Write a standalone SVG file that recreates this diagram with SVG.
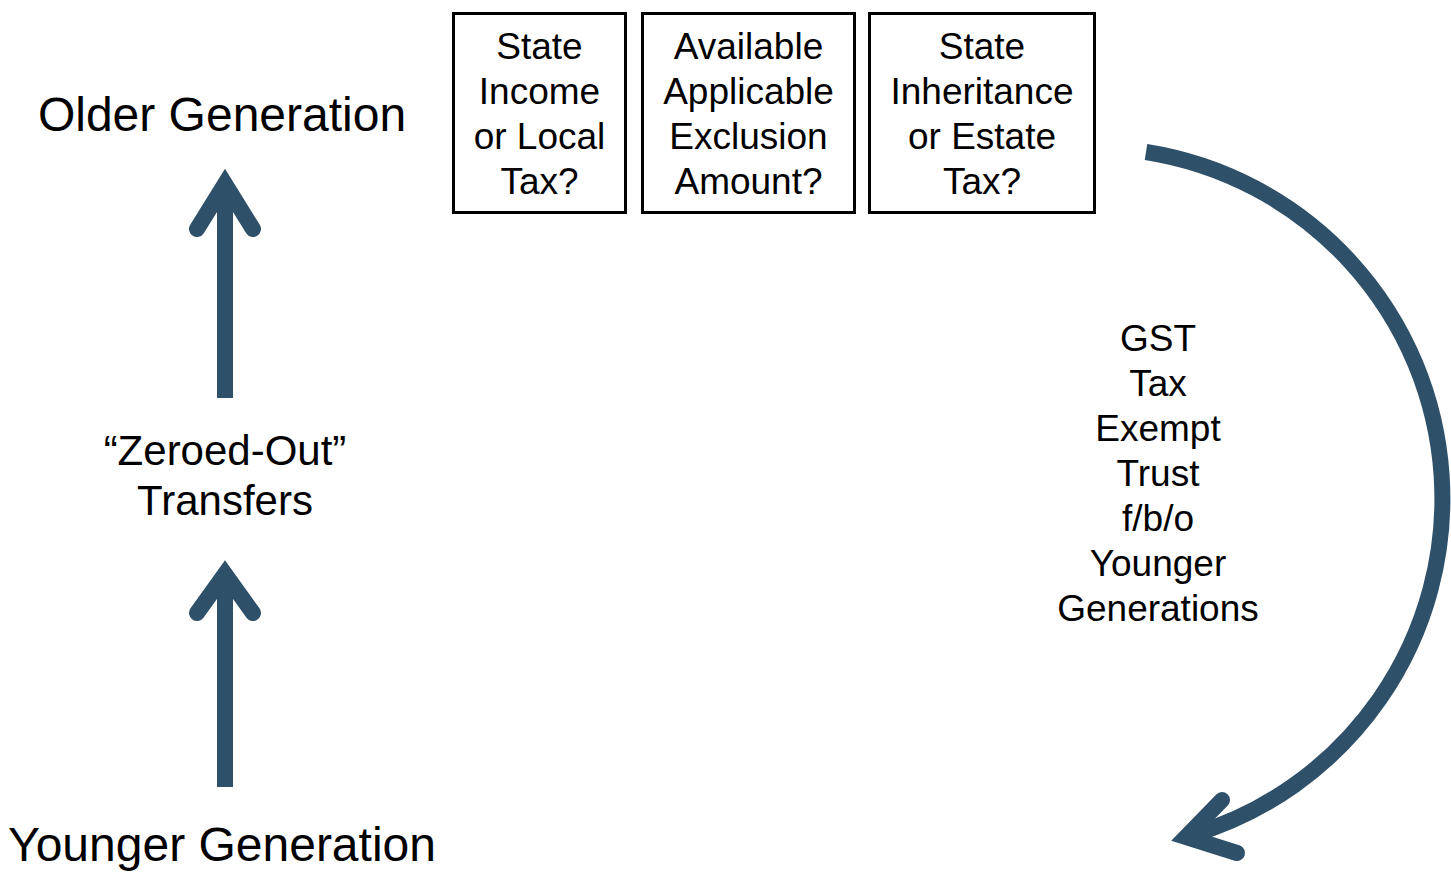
<svg xmlns="http://www.w3.org/2000/svg" width="1451" height="872" viewBox="0 0 1451 872">
<style>
.t{font-family:"Liberation Sans",Arial,sans-serif;fill:#000;text-anchor:middle}
.box{fill:#fff;stroke:#000;stroke-width:3}
.arr{fill:none;stroke:#2F5069;stroke-width:16}
.head{fill:none;stroke:#2F5069;stroke-width:16;stroke-linecap:round;stroke-linejoin:miter;stroke-miterlimit:10}
</style>
<rect width="1451" height="872" fill="#fff"/>
<g id="older"><text class="t" x="222" y="131" font-size="48">Older Generation</text></g>
<g id="younger"><text class="t" x="222" y="861" font-size="48">Younger Generation</text></g>
<g id="zeroed"><text class="t" x="225" y="465" font-size="42">“Zeroed-Out”</text><text class="t" x="225" y="515" font-size="42">Transfers</text></g>
<g id="box1"><rect class="box" x="453.5" y="13.5" width="172" height="199"/>
<text class="t" font-size="37" x="539.5" y="59">State</text><text class="t" font-size="37" x="539.5" y="104">Income</text><text class="t" font-size="37" x="539.5" y="149">or Local</text><text class="t" font-size="37" x="539.5" y="194">Tax?</text></g>
<g id="box2"><rect class="box" x="642.5" y="13.5" width="212" height="199"/>
<text class="t" font-size="37" x="748.5" y="59">Available</text><text class="t" font-size="37" x="748.5" y="104">Applicable</text><text class="t" font-size="37" x="748.5" y="149">Exclusion</text><text class="t" font-size="37" x="748.5" y="194">Amount?</text></g>
<g id="box3"><rect class="box" x="869.5" y="13.5" width="225" height="199"/>
<text class="t" font-size="37" x="982" y="59">State</text><text class="t" font-size="37" x="982" y="104">Inheritance</text><text class="t" font-size="37" x="982" y="149">or Estate</text><text class="t" font-size="37" x="982" y="194">Tax?</text></g>
<g id="gst"><text class="t" font-size="37" x="1158">
<tspan x="1158" y="351">GST</tspan><tspan x="1158" y="396">Tax</tspan><tspan x="1158" y="441">Exempt</tspan><tspan x="1158" y="486">Trust</tspan><tspan x="1158" y="531">f/b/o</tspan><tspan x="1158" y="576">Younger</tspan><tspan x="1158" y="621">Generations</tspan></text></g>
<g id="connectors">
<path class="arr" d="M1146,152 A 351 351 0 0 1 1192,835"/>
<path class="arr" d="M225,398 V190"/>
<polyline class="head" points="197,229 225,184 253,229"/>
<path class="arr" d="M225,787 V580"/>
<polyline class="head" points="197,613 225,574 253,613"/>
<polyline class="head" points="1222,800 1186,837 1237,853"/>
</g>
</svg>
